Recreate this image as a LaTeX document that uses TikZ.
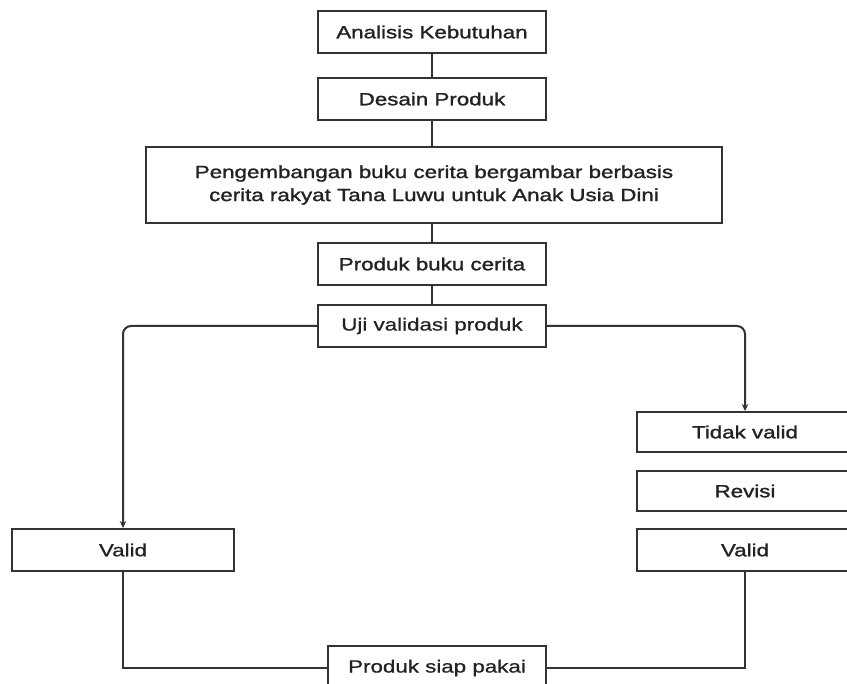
\documentclass[tikz,border=0pt]{standalone}
\usepackage{fontspec}
\setmainfont{Liberation Sans}
\newfontfamily\regfont[FakeStretch=1.27,FakeBold=0.7]{Liberation Sans}
\newfontfamily\medfont[FakeStretch=1.27,FakeBold=1.4]{Liberation Sans}
\usetikzlibrary{arrows.meta}
\definecolor{linegray}{HTML}{333333}
\definecolor{txtgray}{HTML}{222222}
\begin{document}
\begin{tikzpicture}[x=1pt,y=-1pt,
  box/.style={draw=linegray, line width=2pt, fill=white, inner sep=0pt, align=center,
    text=txtgray, font=\medfont\fontsize{17.6}{23}\selectfont},
  lbox/.style={box, font=\regfont\fontsize{17.6}{23}\selectfont},
  conn/.style={draw=linegray, line width=2pt},
  arr/.style={conn, -{Stealth[length=7pt,width=6.5pt]}},
  ]
\useasboundingbox (0,0) rectangle (847,684);
\clip (0,0) rectangle (847,684);
\fill[white] (0,0) rectangle (847,684);

\node[box, minimum width=228pt, minimum height=42pt] (a) at (432,32) {Analisis Kebutuhan};
\node[box, minimum width=228pt, minimum height=42pt] (b) at (432,99) {Desain Produk};
\node[box, minimum width=576pt, minimum height=76pt] (c) at (434,185)
  {Pengembangan buku cerita bergambar berbasis\\cerita rakyat Tana Luwu untuk Anak Usia Dini};
\node[box, minimum width=228pt, minimum height=42pt] (d) at (432,264) {Produk buku cerita};
\node[lbox, minimum width=228pt, minimum height=42pt] (e) at (432,326) {Uji validasi produk};

\node[box, minimum width=216pt, minimum height=40pt] (t) at (745,432) {Tidak valid};
\node[box, minimum width=216pt, minimum height=40pt] (r) at (745,491) {Revisi};
\node[box, minimum width=216pt, minimum height=42pt] (v2) at (745,550) {Valid};
\node[lbox, minimum width=222pt, minimum height=42pt] (v1) at (123,550) {Valid};
\node[lbox, minimum width=218pt, minimum height=44pt] (p) at (437,668) {Produk siap pakai};

\draw[conn] (a.south -| b.north) -- (b.north);
\draw[conn] (b.south) -- (b.south |- c.north);
\draw[conn] (c.south -| d.north) -- (d.north);
\draw[conn] (d) -- (e);
\draw[arr, rounded corners=8pt] (e.west) -| (v1.north);
\draw[arr, rounded corners=8pt] (e.east) -| (t.north);
\coordinate (pl) at (p.west);
\coordinate (pr) at (p.east);
\draw[conn] (v1.south) |- (pl);
\draw[conn] (v2.south) |- (pr);
\end{tikzpicture}
\end{document}
